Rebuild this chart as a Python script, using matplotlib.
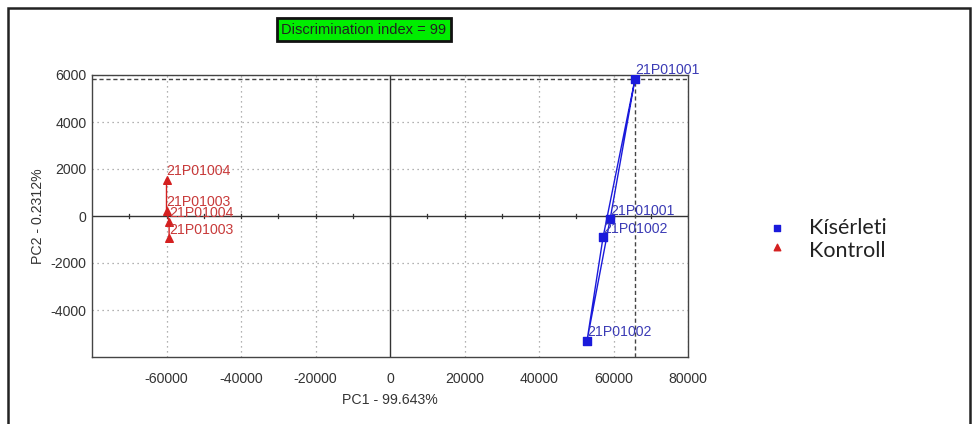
import matplotlib
matplotlib.use("Agg")
import matplotlib.pyplot as plt
from matplotlib.patches import Rectangle
import numpy as np

# Data
exp_labels = ["21P01001", "21P01001", "21P01002", "21P01002"]
exp_x = [65800, 59100, 57200, 52900]
exp_y = [5850, -130, -900, -5300]
exp_path = [0, 1, 3, 2, 0]  # polygon order

ctl_labels = ["21P01004", "21P01003", "21P01004", "21P01003"]
ctl_x = [-60000, -60000, -59300, -59300]
ctl_y = [1550, 220, -250, -950]
ctl_path = [0, 1, 2, 3]

x_ticks = [-60000, -40000, -20000, 0, 20000, 40000, 60000, 80000]
y_ticks = [-4000, -2000, 0, 2000, 4000, 6000]
title_text = "Discrimination index = 99"
xlabel = "PC1 - 99.643%"
ylabel = "PC2 - 0.2312%"
legend_names = ["Kísérleti", "Kontroll"]

blue = "#1a1adb"
red = "#d42020"
blue_txt = "#3b3bb5"
red_txt = "#c83a3a"

fig = plt.figure(figsize=(9.72, 4.24), dpi=100)
fig.patch.set_facecolor("white")

# outer frame
fig.add_artist(Rectangle((8/972, -0.05), (970-8)/972, 1 - 8/424 + 0.05,
                         transform=fig.transFigure, fill=False,
                         edgecolor="#222222", linewidth=1.8))

ax = fig.add_axes([92/972, 1-357/424, (688-92)/972, (357-75)/424])
ax.set_xlim(-80000, 80000)
ax.set_ylim(-6000, 6000)

font = "Liberation Sans"
fs = 10.2
ax.set_xticks(x_ticks)
ax.set_yticks(y_ticks)
ax.set_xticklabels([str(t) for t in x_ticks], fontfamily=font, fontsize=fs, color="#333333")
ax.set_yticklabels([str(t) for t in y_ticks], fontfamily=font, fontsize=fs, color="#333333")
ax.tick_params(axis="x", length=0, pad=11)
ax.tick_params(axis="y", length=0, pad=4)
for s in ax.spines.values():
    s.set_color("#444444")
    s.set_linewidth(1.0)

# grid
for t in x_ticks:
    if t != 0:
        ax.axvline(t, color="#999999", linestyle=(0, (1, 3)), linewidth=0.9, zorder=0)
for t in y_ticks:
    if t != 0:
        ax.axhline(t, color="#999999", linestyle=(0, (1, 3)), linewidth=0.9, zorder=0)

# zero axes
ax.axhline(0, color="#333333", linewidth=1.0, zorder=1)
ax.axvline(0, color="#333333", linewidth=1.0, zorder=1)
for t in range(-70000, 80001, 10000):
    ax.plot([t, t], [-90, 90], color="#333333", linewidth=0.9, zorder=1)

# crosshair at selected point
ax.axhline(exp_y[0], color="#444444", linestyle=(0, (3, 2)), linewidth=1.0, zorder=1)
ax.axvline(exp_x[0], color="#444444", linestyle=(0, (3, 2)), linewidth=1.0, zorder=1)

# lines
ax.plot([exp_x[i] for i in exp_path], [exp_y[i] for i in exp_path], color=blue, linewidth=1.0, zorder=2)
ax.plot([ctl_x[i] for i in ctl_path], [ctl_y[i] for i in ctl_path], color=red, linewidth=1.0, zorder=2)

# markers
ax.scatter(exp_x, exp_y, marker="s", s=28, color=blue, zorder=3)
ax.scatter(ctl_x, ctl_y, marker="^", s=30, color=red, zorder=3)

# labels
for x, y, l in zip(exp_x, exp_y, exp_labels):
    ax.annotate(l, (x, y), xytext=(0, 1), textcoords="offset points",
                fontfamily=font, fontsize=fs, color=blue_txt, va="bottom", ha="left")
for x, y, l in zip(ctl_x, ctl_y, ctl_labels):
    ax.annotate(l, (x, y), xytext=(0, 1), textcoords="offset points",
                fontfamily=font, fontsize=fs, color=red_txt, va="bottom", ha="left")

ax.set_xlabel(xlabel, fontfamily=font, fontsize=fs, color="#333333", labelpad=5)
ax.set_ylabel(ylabel, fontfamily=font, fontsize=fs, color="#333333", labelpad=4)

# title box
fig.text(364/972, 1-29.5/424, title_text, ha="center", va="center",
         fontfamily=font, fontsize=10.5, color="#222222",
         bbox=dict(boxstyle="square,pad=0.3", facecolor="#00ee00", edgecolor="#111111", linewidth=2))

# legend
lax = fig.add_axes([0, 0, 1, 1], facecolor="none")
lax.set_xlim(0, 972)
lax.set_ylim(424, 0)
lax.axis("off")
lax.scatter([777], [228], marker="s", s=16, color=blue)
lax.scatter([777], [247], marker="^", s=22, color=red)
lax.text(809, 228, legend_names[0], fontfamily="Lato", fontsize=15.5, va="center", ha="left", color="#222222")
lax.text(809, 251, legend_names[1], fontfamily="Lato", fontsize=15.5, va="center", ha="left", color="#222222")

fig.savefig("out.png", dpi=100)
